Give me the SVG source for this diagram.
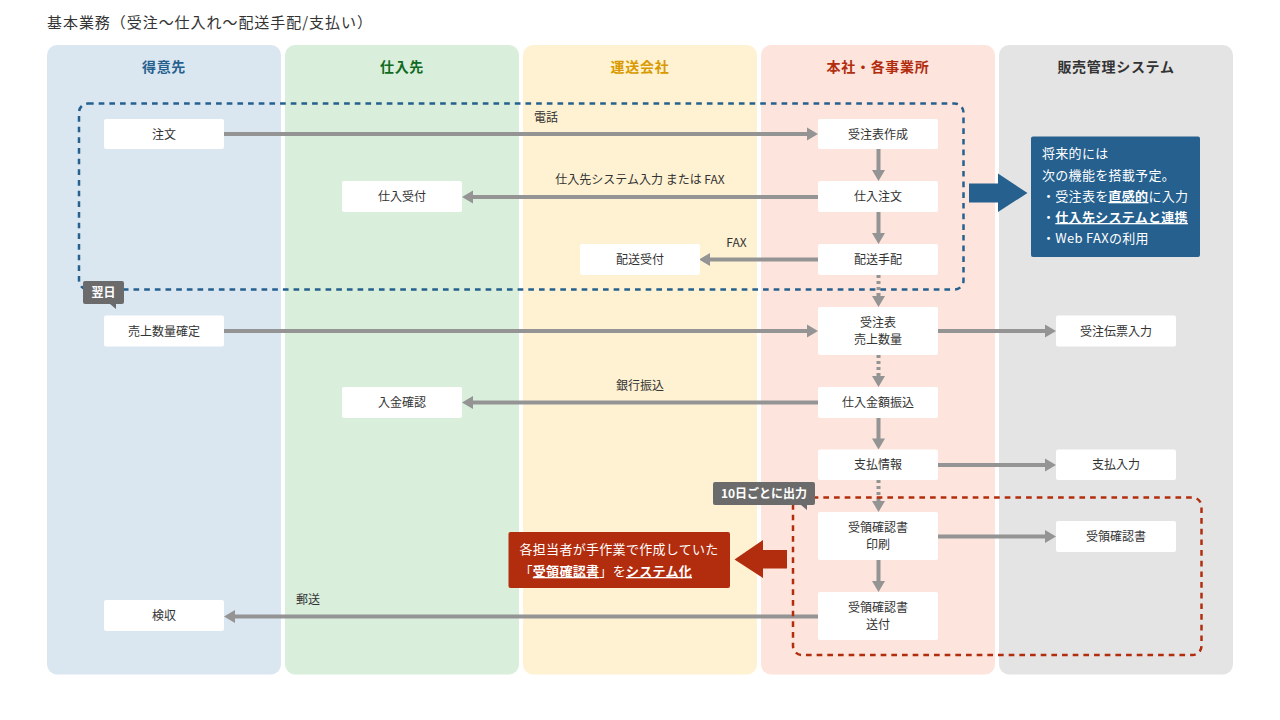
<svg xmlns="http://www.w3.org/2000/svg" width="1280" height="720" viewBox="0 0 1280 720">
<style>
text{font-family:"Noto Sans CJK JP","Noto Sans",sans-serif;fill:#333}
.t{font-size:12px;text-anchor:middle}
.h{font-size:14px;font-weight:700;text-anchor:middle;letter-spacing:.7px}
.n{fill:#fff}
.c{stroke:#949494;stroke-width:4;fill:none}
.d{stroke:#949494;stroke-width:4;fill:none;stroke-dasharray:3 3}
.a{fill:#949494}
.w{fill:#fff;font-size:13px;letter-spacing:.3px}
.b{font-weight:700}
.u{text-decoration:underline}
</style>
<rect width="1280" height="720" fill="#fff"/>
<text x="47" y="27.500" font-size="15" letter-spacing=".95" style="text-spacing-trim:space-all">基本業務（受注～仕入れ～配送手配/支払い）</text>
<g id="lanes">
<g id="lane1"><rect x="47" y="45" width="234" height="629.500" rx="10" fill="#dae6f0"/><text class="h" x="164" y="72" style="fill:#25608e">得意先</text></g>
<g id="lane2"><rect x="285" y="45" width="234" height="629.500" rx="10" fill="#d9eedb"/><text class="h" x="402" y="72" style="fill:#0f6a1f">仕入先</text></g>
<g id="lane3"><rect x="523" y="45" width="234" height="629.500" rx="10" fill="#fff2d2"/><text class="h" x="640" y="72" style="fill:#d99a00">運送会社</text></g>
<g id="lane4"><rect x="761" y="45" width="234" height="629.500" rx="10" fill="#fde4dc"/><text class="h" x="878" y="72" style="fill:#b22d0e">本社・各事業所</text></g>
<g id="lane5"><rect x="999" y="45" width="234" height="629.500" rx="10" fill="#e4e4e4"/><text class="h" x="1116" y="72">販売管理システム</text></g>
</g>
<g id="connectors">
<path class="c" d="M224 134H808M818 197H472M818 259.500H710M224 331H808M938 331H1046M818 402.500H472M938 465H1046M938 536.500H1046M818 616.500H234"/>
<path class="c" d="M878.500 149V171M878.500 212V234M878.500 418V440M878.500 560V582"/>
<path class="d" d="M878.500 275V297M878.500 355V377M878.500 480V503"/>
<path class="a" d="M818 134l-11-6.500v13zM462 197l11-6.500v13zM699 259.500l11-6.500v13zM818 331l-11-6.500v13zM1056 331l-11-6.500v13zM462 402.500l11-6.500v13zM1056 465l-11-6.500v13zM1056 536.500l-11-6.500v13zM224 616.500l11-6.500v13z"/>
<path class="a" d="M878.500 181l-6.500-11h13zM878.500 244l-6.500-11h13zM878.500 307l-6.500-11h13zM878.500 387l-6.500-11h13zM878.500 449.500l-6.500-11h13zM878.500 512l-6.500-11h13zM878.500 592l-6.500-11h13z"/>
<text class="t" x="546" y="122">電話</text>
<text class="t" x="640" y="184">仕入先システム入力 または FAX</text>
<text class="t" x="736.500" y="247">FAX</text>
<text class="t" x="640" y="390">銀行振込</text>
<text class="t" x="308" y="604">郵送</text>
</g>
<rect id="scope-blue" x="79" y="103.500" width="884.500" height="186" rx="9" fill="none" stroke="#25608e" stroke-width="2.500" stroke-dasharray="5.670 5"/>
<rect id="scope-red" x="793" y="497.500" width="408.500" height="157.500" rx="9" fill="none" stroke="#b22d0e" stroke-width="2.500" stroke-dasharray="5.670 5"/>
<g id="n1"><rect class="n" x="104" y="119" width="120" height="30" rx="2"/><text class="t" x="164" y="138.500">注文</text></g>
<g id="n2"><rect class="n" x="818" y="119" width="120" height="30" rx="2"/><text class="t" x="878" y="138.500">受注表作成</text></g>
<g id="n3"><rect class="n" x="342" y="181" width="120" height="31" rx="2"/><text class="t" x="402" y="201">仕入受付</text></g>
<g id="n4"><rect class="n" x="818" y="181" width="120" height="31" rx="2"/><text class="t" x="878" y="201">仕入注文</text></g>
<g id="n5"><rect class="n" x="580" y="244" width="120" height="31" rx="2"/><text class="t" x="640" y="264">配送受付</text></g>
<g id="n6"><rect class="n" x="818" y="244" width="120" height="31" rx="2"/><text class="t" x="878" y="264">配送手配</text></g>
<g id="n7"><rect class="n" x="104" y="315.500" width="120" height="31" rx="2"/><text class="t" x="164" y="335.500">売上数量確定</text></g>
<g id="n8"><rect class="n" x="818" y="307" width="120" height="48" rx="2"/><text class="t" x="878" y="326.500">受注表</text><text class="t" x="878" y="344">売上数量</text></g>
<g id="n9"><rect class="n" x="1056" y="315.500" width="120" height="31" rx="2"/><text class="t" x="1116" y="335.500">受注伝票入力</text></g>
<g id="n10"><rect class="n" x="342" y="387" width="120" height="31" rx="2"/><text class="t" x="402" y="407">入金確認</text></g>
<g id="n11"><rect class="n" x="818" y="387" width="120" height="31" rx="2"/><text class="t" x="878" y="407">仕入金額振込</text></g>
<g id="n12"><rect class="n" x="818" y="449.500" width="120" height="30.500" rx="2"/><text class="t" x="878" y="469">支払情報</text></g>
<g id="n13"><rect class="n" x="1056" y="449.500" width="120" height="30.500" rx="2"/><text class="t" x="1116" y="469">支払入力</text></g>
<g id="n14"><rect class="n" x="818" y="512" width="120" height="48" rx="2"/><text class="t" x="878" y="532">受領確認書</text><text class="t" x="878" y="549">印刷</text></g>
<g id="n15"><rect class="n" x="1056" y="521" width="120" height="31" rx="2"/><text class="t" x="1116" y="541">受領確認書</text></g>
<g id="n16"><rect class="n" x="818" y="592" width="120" height="48" rx="2"/><text class="t" x="878" y="612">受領確認書</text><text class="t" x="878" y="629">送付</text></g>
<g id="n17"><rect class="n" x="104" y="600" width="120" height="31" rx="2"/><text class="t" x="164" y="620">検収</text></g>
<g id="tag-next"><path d="M85 281H122a2 2 0 0 1 2 2V302a2 2 0 0 1-2 2H116V309L110 304H85a2 2 0 0 1-2-2V283a2 2 0 0 1 2-2z" fill="#6b6b6b"/><text x="103.500" y="297" font-size="12" font-weight="700" text-anchor="middle" style="fill:#fff">翌日</text></g>
<g id="tag-10"><path d="M715 482H813a2 2 0 0 1 2 2V503a2 2 0 0 1-2 2H807V510L801 505H715a2 2 0 0 1-2-2V484a2 2 0 0 1 2-2z" fill="#6b6b6b"/><text x="764" y="498" font-size="12" font-weight="700" text-anchor="middle" style="fill:#fff">10日ごとに出力</text></g>
<g id="note-blue">
<path d="M969 183.500H998V173.500L1027.500 193L998 212V202.500H969z" fill="#25608e"/>
<rect x="1031" y="136.500" width="169" height="120.500" rx="2" fill="#25608e"/>
<text class="w" x="1042" y="158">将来的には</text>
<text class="w" x="1042" y="180">次の機能を搭載予定。</text>
<text class="w" x="1042" y="201">・受注表を<tspan class="b u" style="fill:#fff">直感的</tspan>に入力</text>
<text class="w" x="1042" y="222">・<tspan class="b u" style="fill:#fff">仕入先システムと連携</tspan></text>
<text class="w" x="1042" y="243">・Web FAXの利用</text>
</g>
<g id="note-red">
<path d="M787 550H763V540L734.500 559.500L763 578V568.500H787z" fill="#b22d0e"/>
<rect x="508.500" y="532" width="221.500" height="56" rx="2" fill="#b22d0e"/>
<text class="w" x="519.500" y="554">各担当者が手作業で作成していた</text>
<text class="w" x="519.500" y="576">「<tspan class="b u" style="fill:#fff">受領確認書</tspan>」を<tspan class="b u" style="fill:#fff">システム化</tspan></text>
</g>
</svg>
